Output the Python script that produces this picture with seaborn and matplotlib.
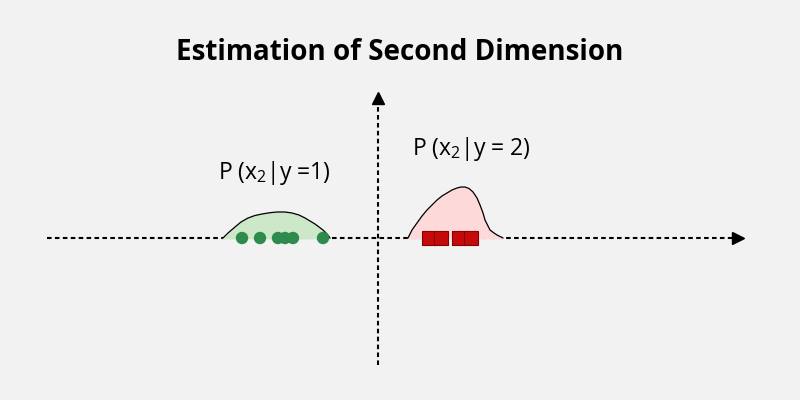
import numpy as np
import pandas as pd
import matplotlib
matplotlib.use("Agg")
import matplotlib.pyplot as plt
import seaborn as sns

# 좌표계: 원점 = 축 교차점, 단위 = 픽셀
class1_x = [-136, -118, -100, -93, -85, -55]
class2_x = [51, 63, 81, 93]

# 밀도 곡선
curve1_x = [-155, -150, -143, -137, -130, -123, -116, -108, -101, -93, -86, -79, -73, -68, -63, -59, -55, -51, -48]
curve1_y = [0, 5, 11, 16, 20, 22.5, 24, 25.3, 26, 26, 25, 23, 20, 17, 14, 11, 8, 4, 0]
curve2_x = [30, 34, 39, 44, 49, 54, 59, 64, 69, 74, 79, 83, 87, 91, 95, 99, 102, 105, 107, 110, 112, 116, 119, 122, 125]
curve2_y = [0, 8, 15, 22, 28, 33, 38, 42, 45, 48, 50, 51, 51, 49.5, 46, 40, 33, 25, 18, 12, 8, 5, 3, 1.5, 0]

title = "Estimation of Second Dimension"
label1 = r"P (x$_2$|y =1)"
label2 = r"P (x$_2$|y = 2)"

sns.set_theme(style="white")
plt.rcParams['font.family'] = ['Open Sans', 'DejaVu Sans']
plt.rcParams['text.color'] = 'black'
plt.rcParams['mathtext.fontset'] = 'custom'
plt.rcParams['mathtext.rm'] = 'Open Sans'
plt.rcParams['mathtext.it'] = 'Open Sans'

bg = "#f2f2f2"
fig = plt.figure(figsize=(8, 4), dpi=100, facecolor=bg)
ax = fig.add_axes([0, 0, 1, 1])
ax.set_facecolor(bg)
ax.set_xlim(-378, 422)
ax.set_ylim(-162, 238)
ax.axis("off")

# 축 (점선 + 화살표)
dash = (0, (2.2, 1.6))
ax.plot([-331, 358], [0, 0], color="black", lw=1.5, linestyle=dash, zorder=1)
ax.plot([0, 0], [-127, 136], color="black", lw=1.5, linestyle=dash, zorder=1)
ax.plot([360], [0], marker=">", color="black", markersize=8, zorder=2)
ax.plot([0], [140], marker="^", color="black", markersize=8, zorder=2)

# 밀도 곡선
df1 = pd.DataFrame({"x": curve1_x, "y": curve1_y})
df2 = pd.DataFrame({"x": curve2_x, "y": curve2_y})
ax.fill_between(df1["x"], df1["y"], color="#cde8c8", zorder=2)
ax.fill_between(df2["x"], df2["y"], color="#fdd9d9", zorder=2)
sns.lineplot(data=df1, x="x", y="y", sort=False, color="black", lw=0.9, ax=ax, zorder=3)
sns.lineplot(data=df2, x="x", y="y", sort=False, color="black", lw=0.9, ax=ax, zorder=3)

# 데이터 포인트
pts1 = pd.DataFrame({"x": class1_x, "y": [0] * len(class1_x)})
pts2 = pd.DataFrame({"x": class2_x, "y": [0] * len(class2_x)})
sns.scatterplot(data=pts1, x="x", y="y", color="#2e8b4e", s=80, marker="o",
                edgecolor="none", ax=ax, zorder=4)
sns.scatterplot(data=pts2, x="x", y="y", color="#c40a0a", s=95, marker="s",
                edgecolor="#8a0000", linewidth=0.8, ax=ax, zorder=4)

ax.set_xlabel("")
ax.set_ylabel("")
ax.axis("off")

# 텍스트
ax.text(-104, 65, label1, fontsize=16.5, ha="center", va="center", color="black")
ax.text(93, 89, label2, fontsize=16.5, ha="center", va="center", color="black")
fig.text(0.5, 0.87, title, fontsize=20, fontweight="bold", ha="center", va="center", color="black")

plt.savefig("out.png", dpi=100, facecolor=bg)
plt.close()
